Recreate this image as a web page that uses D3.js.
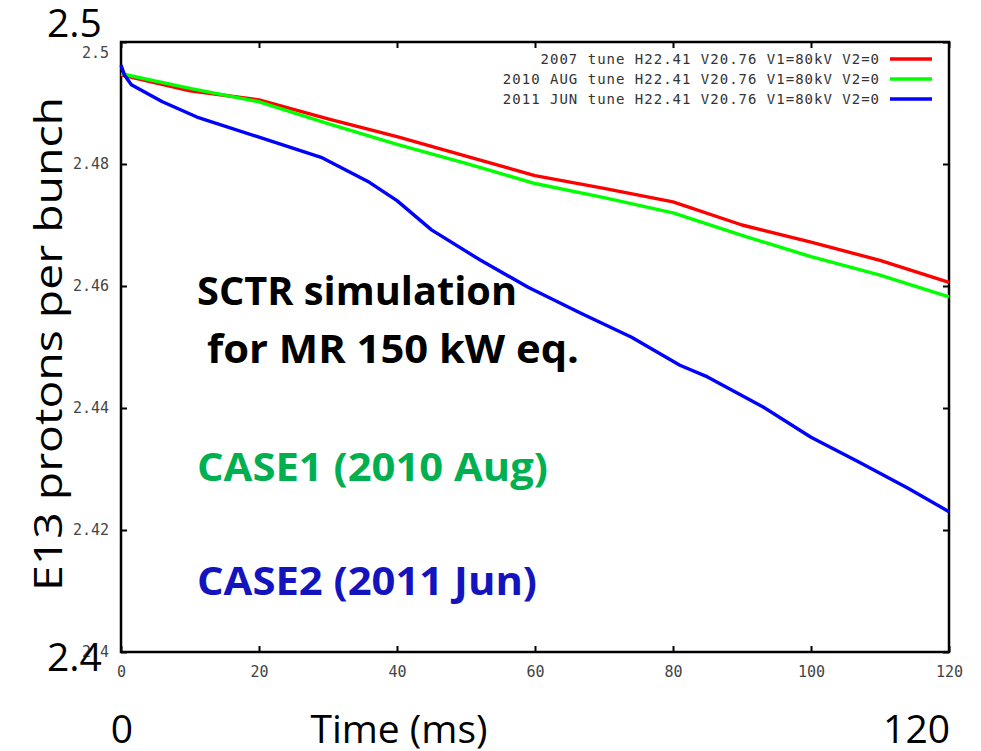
<!DOCTYPE html>
<html>
<head>
<meta charset="utf-8">
<style>
  body { margin: 0; background: #fff; }
  svg { display: block; }
  .gp text { font-family: "DejaVu Sans Mono", monospace; font-size: 14px; letter-spacing: 1px; fill: #333; }
  .gp .tick text { font-size: 15px; letter-spacing: 0; fill: #444; }
  .big { font-family: "Open Sans", sans-serif; font-size: 39px; fill: #000; }
  .note { font-family: "Open Sans", sans-serif; font-size: 39px; font-weight: bold; }
</style>
</head>
<body>
<svg width="981" height="751"></svg>
<script src="https://cdn.jsdelivr.net/npm/d3@7"></script>
<script>

// values (time in ms, E13 protons per bunch)
var red2007 = [
  [0, 2.4946], [10, 2.4920], [20, 2.4905], [30, 2.4874], [40, 2.4845],
  [50, 2.4813], [60, 2.4781], [70, 2.4760], [80, 2.4738], [90, 2.4700],
  [100, 2.4672], [110, 2.4642], [120, 2.4606]
];
var green2010 = [
  [0, 2.4948], [10, 2.4924], [20, 2.4902], [30, 2.4866], [40, 2.4832],
  [50, 2.4801], [60, 2.4768], [70, 2.4745], [80, 2.4720], [90, 2.4683],
  [100, 2.4648], [110, 2.4618], [120, 2.4582]
];
var blue2011 = [
  [0, 2.4962], [0.5, 2.4946], [1.5, 2.4930], [6, 2.4902], [11, 2.4877],
  [20, 2.4844], [29, 2.4811], [36, 2.4770], [40, 2.4740], [45, 2.4692],
  [52, 2.4643], [59, 2.4598], [66.5, 2.4556], [74, 2.4516], [81, 2.4470],
  [85, 2.4451], [93, 2.4402], [100, 2.4352], [107, 2.4311], [114, 2.4269],
  [120, 2.4230]
];

var legendLabels = [
  "2007 tune H22.41 V20.76 V1=80kV V2=0",
  "2010 AUG tune H22.41 V20.76 V1=80kV V2=0",
  "2011 JUN tune H22.41 V20.76 V1=80kV V2=0"
];
var xTicks = [0, 20, 40, 60, 80, 100, 120];
var yTicks = [2.4, 2.42, 2.44, 2.46, 2.48, 2.5];

var svg = d3.select("svg");

// plot frame (avoid the name "top", it is window.top)
var pL = 121, pR = 949, pT = 42, pB = 652;

var x = d3.scaleLinear().domain([0, 120]).range([pL, pR]);
var y = d3.scaleLinear().domain([2.4, 2.5]).range([pB, pT]);

var series = [
  { data: red2007, color: "#ff0000" },
  { data: green2010, color: "#00ff00" },
  { data: blue2011, color: "#0000ff" }
];

// gnuplot frame + ticks
var gp = svg.append("g").attr("class", "gp");

var fmt = function(d) { return String(+d.toFixed(2)); };

var gx = gp.append("g")
    .attr("transform", "translate(0," + pB + ")")
    .call(d3.axisBottom(x).tickValues(xTicks).tickFormat(d3.format("d")).tickSizeInner(-6).tickSizeOuter(0).tickPadding(14));
var gxt = gp.append("g")
    .attr("transform", "translate(0," + pT + ")")
    .call(d3.axisTop(x).tickValues(xTicks).tickFormat("").tickSizeInner(-6).tickSizeOuter(0));
var gy = gp.append("g")
    .attr("transform", "translate(" + pL + ",0)")
    .call(d3.axisLeft(y).tickValues(yTicks).tickFormat(fmt).tickSizeInner(-6).tickSizeOuter(0).tickPadding(12));
var gyr = gp.append("g")
    .attr("transform", "translate(" + pR + ",0)")
    .call(d3.axisRight(y).tickValues(yTicks).tickFormat("").tickSizeInner(-6).tickSizeOuter(0));

[gx, gxt, gy, gyr].forEach(function(g) {
  g.select(".domain").remove();
  g.selectAll("line").attr("stroke", "#000").attr("stroke-width", 2);
  g.selectAll("text").attr("font-family", null).attr("font-size", null).attr("fill", null);
});
// the top y label sits a bit lower in the picture
gy.selectAll(".tick text").filter(function(d) { return d === 2.5; }).attr("dy", "1.05em");

var line = d3.line()
    .x(function(d) { return x(d[0]); })
    .y(function(d) { return y(d[1]); });

svg.append("g").selectAll("path")
  .data(series)
  .enter().append("path")
    .attr("d", function(d) { return line(d.data); })
    .attr("fill", "none")
    .attr("stroke", function(d) { return d.color; })
    .attr("stroke-width", 3.4)
    .attr("stroke-linejoin", "round");

gp.append("rect")
    .attr("x", pL).attr("y", pT)
    .attr("width", pR - pL).attr("height", pB - pT)
    .attr("fill", "none").attr("stroke", "#000").attr("stroke-width", 2.5);

// legend
var leg = gp.append("g").selectAll("g")
  .data(series)
  .enter().append("g")
    .attr("transform", function(d, i) { return "translate(0," + (59 + i * 20) + ")"; });
leg.append("text")
    .attr("x", 880).attr("y", 5)
    .attr("text-anchor", "end")
    .text(function(d, i) { return legendLabels[i]; });
leg.append("line")
    .attr("x1", 890).attr("x2", 932)
    .attr("stroke", function(d) { return d.color; })
    .attr("stroke-width", 3.4);

// slide overlay texts
var big = svg.append("g").attr("class", "big");
big.append("text").attr("x", 47).attr("y", 37).text("2.5");
big.append("text").attr("x", 47).attr("y", 671).text("2.4");
big.append("text").attr("x", 122).attr("y", 743).attr("text-anchor", "middle").text("0");
big.append("text").attr("x", 399).attr("y", 743).attr("text-anchor", "middle").text("Time (ms)");
big.append("text").attr("x", 950).attr("y", 743).attr("text-anchor", "end").text("120");
big.append("text")
    .attr("transform", "translate(62,344) rotate(-90)")
    .attr("text-anchor", "middle")
    .attr("textLength", 494).attr("lengthAdjust", "spacingAndGlyphs")
    .text("E13 protons per bunch");

var notes = [
  { t: "SCTR simulation", x: 197, y: 305, w: 320, c: "#000" },
  { t: "for MR 150 kW eq.", x: 207, y: 363, w: 372, c: "#000" },
  { t: "CASE1 (2010 Aug)", x: 197, y: 481, w: 351, c: "#00b050" },
  { t: "CASE2 (2011 Jun)", x: 197, y: 595, w: 340, c: "#1414bf" }
];
svg.append("g").attr("class", "note").selectAll("text")
  .data(notes)
  .enter().append("text")
    .attr("x", function(d) { return d.x; })
    .attr("y", function(d) { return d.y; })
    .attr("fill", function(d) { return d.c; })
    .attr("textLength", function(d) { return d.w; })
    .attr("lengthAdjust", "spacingAndGlyphs")
    .text(function(d) { return d.t; });

</script>
</body>
</html>
